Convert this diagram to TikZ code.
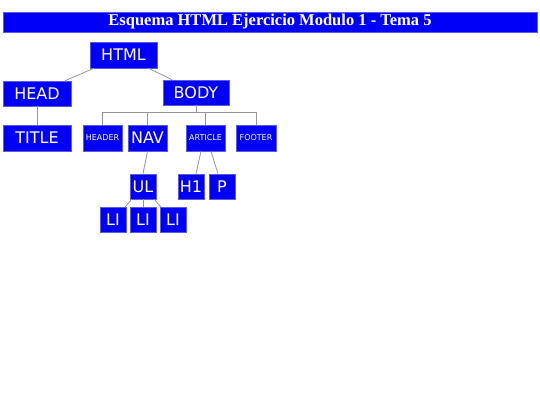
\documentclass[tikz,border=0pt]{standalone}
\usepackage{fontspec}
\setmainfont{Liberation Serif}
\newfontfamily\boxfont{DejaVu Sans}
\usetikzlibrary{calc}
\definecolor{boxblue}{RGB}{0,0,250}
\definecolor{boxedge}{RGB}{90,90,230}
\definecolor{linegray}{RGB}{150,150,150}
\tikzset{
  tbox/.style={draw=boxedge, line width=0.6pt, fill=boxblue, text=white, inner sep=0pt, font=\boxfont\fontsize{16}{16}\selectfont},
  sbox/.style={tbox, font=\boxfont\fontsize{8}{8}\selectfont},
  conn/.style={draw=linegray, line width=0.8pt},
}
\begin{document}
\begin{tikzpicture}[x=1pt,y=-1pt]
\useasboundingbox (0,0) rectangle (540,405);
\node[tbox, minimum width=534pt, minimum height=20pt, font=\bfseries\fontsize{16.5}{16.5}\selectfont] (title) at (270,22) {Esquema HTML Ejercicio Modulo 1 - Tema 5};
\node[tbox, minimum width=67pt, minimum height=26pt] (html) at (123.5,55) {HTML};
\node[tbox, minimum width=68pt, minimum height=25pt] (head) at (37,93.5) {HEAD};
\node[tbox, minimum width=66pt, minimum height=25pt] (body) at (196,92.5) {BODY};
\node[tbox, minimum width=68pt, minimum height=26pt] (titlenode) at (37,138) {TITLE};
\node[sbox, minimum width=39pt, minimum height=26pt] (header) at (102.5,138) {HEADER};
\node[tbox, minimum width=39pt, minimum height=26pt] (nav) at (147.5,138) {NAV};
\node[sbox, minimum width=39pt, minimum height=26pt] (article) at (205.5,138) {ARTICLE};
\node[sbox, minimum width=40pt, minimum height=26pt] (footer) at (256,138) {FOOTER};
\node[tbox, minimum width=26pt, minimum height=25pt] (ul) at (143,186.5) {UL};
\node[tbox, minimum width=26pt, minimum height=25pt] (h1) at (191,186.5) {H1};
\node[tbox, minimum width=26pt, minimum height=25pt] (p) at (222,186.5) {P};
\node[tbox, minimum width=26pt, minimum height=25pt] (li1) at (113,219.5) {LI};
\node[tbox, minimum width=26pt, minimum height=25pt] (li2) at (143,219.5) {LI};
\node[tbox, minimum width=26pt, minimum height=25pt] (li3) at (173,219.5) {LI};
\coordinate (bus) at (196,112);
% connectors
\draw[conn] ($(html.south west)!0.06!(html.south east)$) -- ($(head.north west)!0.91!(head.north east)$);
\draw[conn] ($(html.south west)!0.87!(html.south east)$) -- ($(body.north west)!0.14!(body.north east)$);
\draw[conn] (head.south) -- (titlenode.north);
\draw[conn] (body.south) -- (bus);
\draw[conn] (header.north) -- (header.north |- bus) -- (footer.north |- bus) -- (footer.north);
\draw[conn] (nav.north) -- (nav.north |- bus);
\draw[conn] (article.north) -- (article.north |- bus);
\draw[conn] (nav.south) -- (ul.north);
\draw[conn] ($(article.south)+(-4.5,0)$) -- ($(h1.north)+(5,0)$);
\draw[conn] ($(article.south)+(5.5,0)$) -- ($(p.north)+(-4,0)$);
\draw[conn] ($(ul.south west)+(2,0)$) -- ($(li1.north east)+(-1,0)$);
\draw[conn] (ul.south) -- (li2.north);
\draw[conn] ($(ul.south east)+(-2,0)$) -- ($(li3.north west)+(1,0)$);
\end{tikzpicture}
\end{document}
